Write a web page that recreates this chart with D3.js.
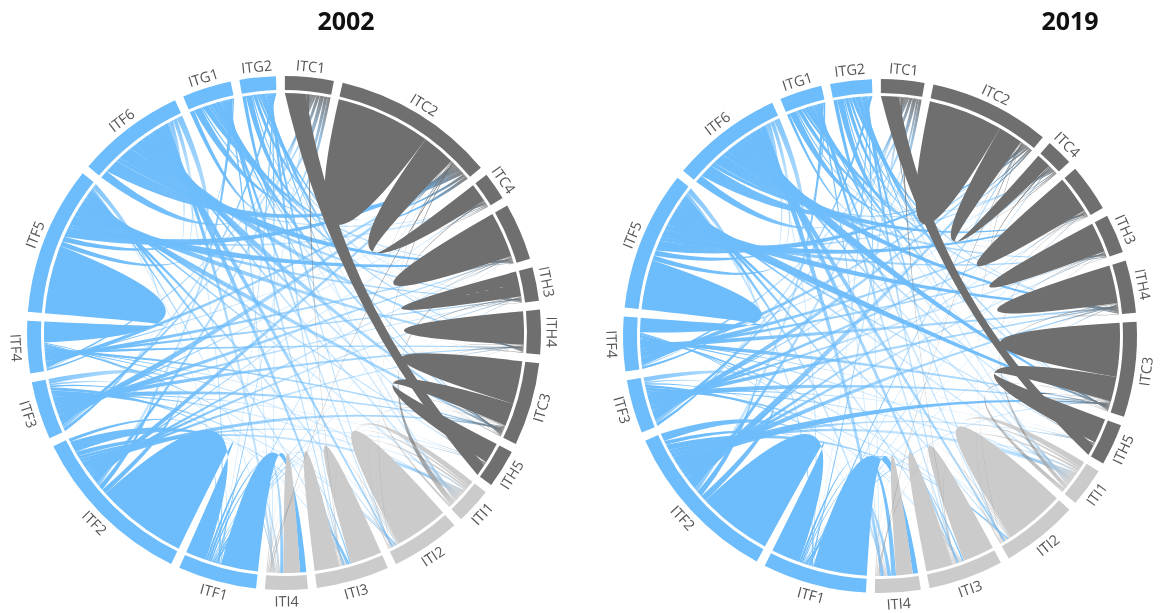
<!DOCTYPE html>
<html><head><meta charset="utf-8">
<script src="https://cdnjs.cloudflare.com/ajax/libs/d3/7.8.5/d3.min.js"></script>
<style>html,body{margin:0;background:#fff}svg{display:block;filter:blur(0.4px)}</style></head>
<body><svg id="c" width="1161" height="613"></svg>
<script>
// Segment names in drawing order (the fourth segment carries no label in the source)
const segments = ["ITC1","ITC2","ITC4","ITH2","ITH3","ITH4","ITC3","ITH5","ITI1","ITI2","ITI3","ITI4","ITF1","ITF2","ITF3","ITF4","ITF5","ITF6","ITG1","ITG2"];
const unlabeled = ["ITH2"];
const families = ["d","d","d","d","d","d","d","d","g","g","g","g","b","b","b","b","b","b","b","b"];
const sizes2002 = [11,36.8,6.3,12.9,7.6,10,18.8,8.7,8.2,15.7,16.5,9.6,17.8,37.8,13.1,11.8,33.7,24.5,11.1,8.2];
const sizes2019 = [9.8,27.3,6.1,10.7,8.8,11.9,21.5,9.4,8.8,17.4,16.9,10.3,23.5,37.3,12.1,12.3,31.6,25.2,9.6,9.4];
// large ribbons: [a, width at a, b, width at b]; negative width = laid from the end of the segment
const major2002 = [
 ["ITF1",9,"ITI4",1.5],["ITF2",22,"ITF1",-5],["ITF5",16.5,"ITF4",-5],
 ["ITI2",6.5,"ITI2",6.5],["ITI3",3.8,"ITI3",3.8],["ITI3",-3,"ITI3",-3],["ITI4",2,"ITI4",2],
 ["ITC1",5,"ITH5",-2.8],["ITC2",11.5,"ITC2",11.5],["ITC2",8,"ITC4",4.5],["ITH2",5.5,"ITH2",5.5],["ITH3",3,"ITH3",3],["ITH4",4,"ITH4",4],["ITC3",5.2,"ITC3",5.2],["ITC3",5.5,"ITH5",5]];
const major2019 = [
 ["ITF1",13,"ITI4",1.3],["ITF2",18,"ITF1",-7],["ITF5",12,"ITF4",-3.5],
 ["ITI2",7.2,"ITI2",7.2],["ITI3",3.8,"ITI3",3.8],["ITI3",-3.2,"ITI3",-3.2],["ITI4",2,"ITI4",2],
 ["ITC1",4.2,"ITH5",-2.5],["ITC2",9,"ITC2",9],["ITC2",6,"ITC4",3.5],["ITH2",4.5,"ITH2",4.5],["ITH3",3.6,"ITH3",3.6],["ITH4",4.6,"ITH4",4.6],["ITC3",6.5,"ITC3",6.5],["ITC3",6,"ITH5",6]];
const blueRows = ["ITF1","ITF2","ITF3","ITF4","ITF5","ITF6","ITG1","ITG2"];
const otherCols = ["ITC1","ITC2","ITC4","ITH2","ITH3","ITH4","ITC3","ITH5","ITI1","ITI2","ITI3","ITI4"];
const flows2002 = [
 [1,1,0,1,1,1,2,1,1,2,3,3],
 [2,3,1,2,2,2,4,2,2,3,7,2],
 [2,4,1,3,2,3,3,1,1,2,2,1],
 [2,4,1,4,3,3,3,1,1,2,1,1],
 [3,6,2,6,3,4,4,2,1,2,2,1],
 [4,7,2,7,3,4,4,2,1,3,3,2],
 [3,5,1,4,2,3,3,1,1,2,2,1],
 [3,5,1,3,2,2,3,1,1,2,2,1]];
const flows2019 = [
 [2,3,1,2,1,2,4,2,1,2,3,5],
 [2,4,1,2,2,3,5,2,2,3,2,4],
 [2,4,1,3,2,3,4,1,1,2,2,1],
 [2,4,1,4,3,4,4,1,1,2,1,1],
 [3,6,2,5,3,5,6,2,1,2,2,2],
 [4,7,2,6,3,5,6,2,1,3,3,3],
 [2,5,1,3,2,3,3,1,1,2,2,1],
 [3,5,1,3,2,3,4,1,1,2,2,1]];
const thin2002 = [["ITF2","ITF5",3],["ITF3","ITF6",2],["ITF4","ITF6",2],["ITF1","ITF5",1],["ITG1","ITF2",2],["ITG2","ITF3",2],["ITG1","ITF4",1],["ITG2","ITF1",1],["ITF1","ITF3",1],["ITF1","ITF6",1],["ITF2","ITF3",3],["ITF5","ITF6",3],
 ["ITC1","ITC4",1],["ITC1","ITH2",1],["ITC2","ITH3",1],["ITC4","ITH4",1],["ITH2","ITH4",1],["ITH2","ITC3",1],["ITH3","ITC3",1],["ITH4","ITH5",1],["ITC2","ITC3",1],
 ["ITH2","ITI1",3],["ITC2","ITI2",1],["ITC3","ITI1",1],["ITC1","ITI3",1],["ITC3","ITI3",1],["ITH4","ITI2",1],["ITC2","ITI4",1],["ITC3","ITI4",1],["ITI1","ITI2",3],["ITI2","ITI3",2],["ITI1","ITI3",1],["ITI1","ITI4",1],["ITI2","ITI4",1]];
const thin2019 = [["ITF2","ITF5",3],["ITF3","ITF6",2],["ITF4","ITF6",2],["ITF1","ITF5",2],["ITG1","ITF2",2],["ITG2","ITF3",2],["ITG1","ITF4",1],["ITG2","ITF1",1],["ITF1","ITF3",1],["ITF1","ITF6",1],["ITF2","ITF3",3],["ITF5","ITF6",3],
 ["ITC1","ITC4",1],["ITC1","ITH2",1],["ITC2","ITH3",1],["ITC4","ITH4",1],["ITH2","ITH4",1],["ITH2","ITC3",1],["ITH3","ITC3",1],["ITH4","ITH5",1],["ITC2","ITC3",1],
 ["ITH2","ITI1",2],["ITC2","ITI2",1],["ITC3","ITI1",2],["ITC1","ITI3",1],["ITC3","ITI3",1],["ITH4","ITI2",1],["ITC2","ITI4",1],["ITC3","ITI4",1],["ITI1","ITI2",3],["ITI2","ITI3",2],["ITI1","ITI3",1],["ITI1","ITI4",1],["ITI2","ITI4",1]];
const titles = ["2002","2019"];

const palette = {b:"#6dbcfb",d:"#6f6f6f",g:"#cbcbcb"};
const familyRank = {b:0,g:1,d:2};
const rad = d3.scaleLinear().domain([0,360]).range([0,2*Math.PI]);
const svg = d3.select("#c");
const defs = svg.append("defs");
const nameIndex = new Map(segments.map((s,i)=>[s,i]));
let gradId = 0;

const R=257, r0=243, rib=240;
const pt=(deg,r)=>[r*Math.sin(rad(deg)),-r*Math.cos(rad(deg))];
// control point of a link edge: near links peak at half radius, far links bow gently off the centre
function ctrl(a,b){
  let d=((b-a)%360+360)%360; let mid=a+d/2;
  if(d>180){d=360-d;mid=a-d/2;}
  const k=d<90 ? rib*(1-Math.cos(rad(d/2))) : 70*Math.sin(rad(d));
  return pt(mid,k);
}
function ribbonPath(A,B){
  const p=d3.path(), a0=rad(A[0])-Math.PI/2,a1=rad(A[1])-Math.PI/2,b0=rad(B[0])-Math.PI/2,b1=rad(B[1])-Math.PI/2;
  const s=pt(A[0],rib); p.moveTo(s[0],s[1]);
  p.arc(0,0,rib,a0,a1);
  let c=ctrl(A[1],B[0]),e=pt(B[0],rib); p.quadraticCurveTo(c[0],c[1],e[0],e[1]);
  p.arc(0,0,rib,b0,b1);
  c=ctrl(B[1],A[0]); p.quadraticCurveTo(c[0],c[1],s[0],s[1]);
  p.closePath();
  return p.toString();
}
function gradientFor(d){
  const id="lg"+(gradId++);
  const fa=families[d.a], fb=families[d.b];
  const [x1,y1]=pt((d.A[0]+d.A[1])/2,rib),[x2,y2]=pt((d.B[0]+d.B[1])/2,rib);
  const strong=d.v>=5?0.95:d.v>=3?0.6:d.v>=2?0.42:0.3;
  const endFam=(fb==="g"&&fa==="b"&&d.v>=3)?"b":fb;
  const lg=defs.append("linearGradient").attr("id",id).attr("gradientUnits","userSpaceOnUse")
    .attr("x1",x1).attr("y1",y1).attr("x2",x2).attr("y2",y2);
  [[0,palette[fa],1],[0.2,palette[fa],0.95],[0.5,palette[fa],strong],[0.85,palette[fa],strong],[1,palette[endFam],0.85]]
    .forEach(s=>lg.append("stop").attr("offset",s[0]).attr("stop-color",s[1]).attr("stop-opacity",s[2]));
  return `url(#${id})`;
}

function drawChord(cx,cy,sizes,major,flows,thin,title,titleX){
  const pad=2, n=segments.length;
  const unit=(360-n*pad)/d3.sum(sizes);
  const starts=[]; let acc=0.2;
  sizes.forEach(s=>{starts.push(acc);acc+=s*unit+pad;});
  const seg=sizes.map((s,i)=>({i,start:starts[i],end:starts[i]+s*unit,low:starts[i],high:starts[i]+s*unit}));
  const ribbons=[];
  const place=(name,w)=>{const g=seg[nameIndex.get(name)];
    if(w>=0){const a=g.low;g.low+=w;return [a,g.low];}
    const b=g.high;g.high+=w;return [g.high,b];};
  major.forEach(m=>{const A=place(m[0],m[1]),B=place(m[2],m[3]);
    ribbons.push({a:nameIndex.get(m[0]),A,B,major:true});});
  const minor=[];
  flows.forEach((row,ri)=>row.forEach((v,ci)=>{if(v>0)minor.push({a:nameIndex.get(blueRows[ri]),b:nameIndex.get(otherCols[ci]),v});}));
  thin.forEach(t=>minor.push({a:nameIndex.get(t[0]),b:nameIndex.get(t[1]),v:t[2]}));
  seg.forEach(g=>{
    const ends=[];
    minor.forEach(m=>{if(m.a===g.i)ends.push({m,side:"A",other:m.b});if(m.b===g.i)ends.push({m,side:"B",other:m.a});});
    const mid=(g.start+g.end)/2;
    const dist=e=>{const o=seg[e.other];return (((o.start+o.end)/2-mid)%360+360)%360;};
    // ends cross just after leaving the segment, so each segment's fan stays solid near the rim
    ends.sort((p,q)=>dist(p)-dist(q));
    const tot=d3.sum(ends,e=>e.m.v), k=Math.max(g.high-g.low,0)/tot; let p=g.low;
    ends.forEach(e=>{e.m[e.side]=[p,p+e.m.v*k];p+=e.m.v*k;});
  });
  minor.forEach(m=>ribbons.push(m));
  ribbons.sort((p,q)=>familyRank[families[p.a]]-familyRank[families[q.a]]||(p.major?1:0)-(q.major?1:0)||(p.v||0)-(q.v||0));
  const g=svg.append("g").attr("transform",`translate(${cx},${cy})`);
  g.selectAll("path.rib").data(ribbons).join("path").attr("class","rib")
   .attr("d",d=>ribbonPath(d.A,d.B))
   .attr("fill",d=>d.major?palette[families[d.a]]:gradientFor(d));
  const arc=d3.arc().innerRadius(r0).outerRadius(R);
  g.selectAll("path.seg").data(seg).join("path").attr("class","seg")
   .attr("d",d=>arc({startAngle:rad(d.start),endAngle:rad(d.end)}))
   .attr("fill",d=>palette[families[d.i]]);
  g.selectAll("text.lab").data(seg.filter(d=>!unlabeled.includes(segments[d.i]))).join("text").attr("class","lab")
   .attr("text-anchor","middle").attr("dominant-baseline","central")
   .attr("font-family","'Open Sans',sans-serif").attr("font-size",14.5).attr("fill","#555")
   .attr("transform",d=>{const a=(d.start+d.end)/2;const rot=(a>90&&a<270)?a-180:a;
     const [x,y]=pt(a,268);return `translate(${x},${y}) rotate(${rot})`;})
   .text(d=>segments[d.i]);
  svg.append("text").attr("x",titleX).attr("y",30).attr("text-anchor","middle")
   .attr("font-family","'Open Sans',sans-serif").attr("font-weight",700).attr("font-size",25).attr("fill","#111").text(title);
}
drawChord(284,333,sizes2002,major2002,flows2002,thin2002,titles[0],346);
drawChord(880,336,sizes2019,major2019,flows2019,thin2019,titles[1],1070);
</script></body></html>
